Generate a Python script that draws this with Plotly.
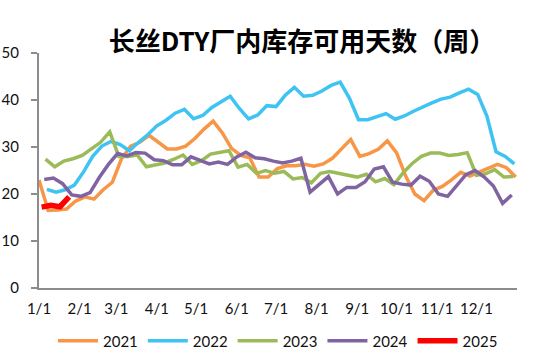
import pandas as pd
import plotly.graph_objects as go

# ---- data (weekly) ----
v2021 = [23.0, 16.5, 16.6, 16.8, 18.5, 19.4, 18.9, 20.9, 22.5, 27.5, 30.2, 31.0, 32.5, 31.0,
         29.6, 29.6, 30.2, 31.8, 33.8, 35.5, 33.0, 29.7, 28.2, 27.7, 23.6, 23.6, 25.4, 26.0,
         26.0, 26.3, 25.9, 26.4, 27.6, 29.6, 31.6, 28.0, 28.6, 29.5, 31.3, 28.8, 23.8, 20.0,
         18.6, 20.8, 21.6, 23.0, 24.6, 23.8, 24.7, 25.5, 26.3, 25.6, 23.6]
v2022 = [21.0, 20.4, 20.9, 21.9, 24.7, 28.0, 30.2, 31.2, 30.5, 29.2, 31.0, 32.6, 34.5, 35.7,
         37.2, 38.0, 36.0, 36.7, 38.4, 39.7, 40.8, 38.2, 36.0, 36.8, 38.8, 38.6, 41.0, 42.7,
         40.8, 41.0, 41.9, 43.1, 43.8, 40.4, 35.8, 35.8, 36.5, 37.1, 35.9, 36.6, 37.6, 38.6,
         39.4, 40.2, 40.6, 41.5, 42.3, 41.2, 36.6, 29.0, 28.0, 26.4]
v2023 = [27.4, 25.8, 27.0, 27.5, 28.2, 29.6, 31.0, 33.2, 28.0, 28.0, 28.3, 25.8, 26.2, 26.6,
         27.4, 28.3, 26.3, 27.1, 28.5, 28.8, 29.2, 25.7, 26.3, 24.4, 25.0, 24.4, 24.8, 23.2,
         23.5, 22.4, 24.4, 24.8, 24.4, 23.9, 23.6, 24.2, 22.6, 23.3, 22.0, 24.5, 26.5, 28.0,
         28.7, 28.7, 28.2, 28.4, 28.8, 24.0, 24.3, 25.2, 23.6, 23.7]
v2024 = [23.1, 23.4, 22.2, 19.8, 19.5, 20.3, 23.5, 26.3, 28.6, 28.1, 28.8, 28.7, 27.3, 27.1,
         26.2, 26.2, 27.9, 27.1, 26.4, 26.8, 26.3, 27.9, 28.9, 27.7, 27.5, 27.0, 26.6, 27.0,
         27.6, 20.4, 22.0, 23.7, 20.0, 21.4, 21.4, 22.6, 25.3, 25.8, 22.5, 22.1, 21.9, 23.8,
         22.7, 20.0, 19.5, 21.8, 24.1, 25.0, 23.6, 21.7, 18.0, 19.8]
v2025 = [17.2, 17.6, 17.3, 19.4]

years = ["2021", "2022", "2023", "2024", "2025"]
first_dates = ["2021-01-01", "2022-01-07", "2023-01-06", "2024-01-05", "2025-01-03"]
series = [v2021, v2022, v2023, v2024, v2025]
colors = ["#F79646", "#3EC3F3", "#9BBB59", "#8064A2", "#FF0000"]
widths = [3.5, 3.5, 3.5, 3.5, 5.5]

month_days = [0, 31, 59, 90, 120, 151, 181, 212, 243, 273, 304, 334]
month_labels = ["1/1", "2/1", "3/1", "4/1", "5/1", "6/1", "7/1", "8/1", "9/1", "10/1", "11/1", "12/1"]

fig = go.Figure()
for name, start, vals, col, w in zip(years, first_dates, series, colors, widths):
    dates = pd.date_range(start, periods=len(vals), freq="7D")
    day = [d.dayofyear - 1 for d in dates]
    fig.add_trace(go.Scatter(x=day, y=vals, mode="lines", name=name,
                             line=dict(color=col, width=w)))

tick_font = dict(family="Lato, 'Noto Sans', sans-serif", size=15, color="#111")

fig.update_layout(
    width=550, height=363,
    margin=dict(l=39, r=33, t=53, b=75, autoexpand=False),
    paper_bgcolor="white", plot_bgcolor="white",
    title=dict(text="<b>长丝DTY厂内库存可用天数（周）</b>",
               font=dict(family="Noto Sans CJK SC", size=26, color="#000"),
               x=302 / 550, xanchor="center", xref="container",
               y=1 - 42 / 363, yanchor="middle", yref="container"),
    showlegend=True,
    legend=dict(orientation="h", x=0.5, xanchor="center", y=1 - 341 / 363,
                yanchor="middle", yref="container", font=tick_font,
                itemwidth=40, traceorder="normal"),
    xaxis=dict(range=[0, 365], tickmode="array", tickvals=month_days, ticktext=month_labels,
               showgrid=False, zeroline=False, showline=True, linecolor="#8C8C8C",
               linewidth=2, ticks="", tickfont=tick_font, ticklabelstandoff=6,
               automargin=False),
    yaxis=dict(range=[0, 50], tickvals=[0, 10, 20, 30, 40, 50], showgrid=False,
               zeroline=False, showline=True, linecolor="#8C8C8C", linewidth=2,
               ticks="outside", ticklen=6, tickcolor="#8C8C8C", tickwidth=2,
               tickfont=tick_font, ticklabelstandoff=9, automargin=False),
)

fig.write_html("out.html", config={"displayModeBar": False},
               post_script="document.body.style.margin='0';document.body.style.padding='0';")
